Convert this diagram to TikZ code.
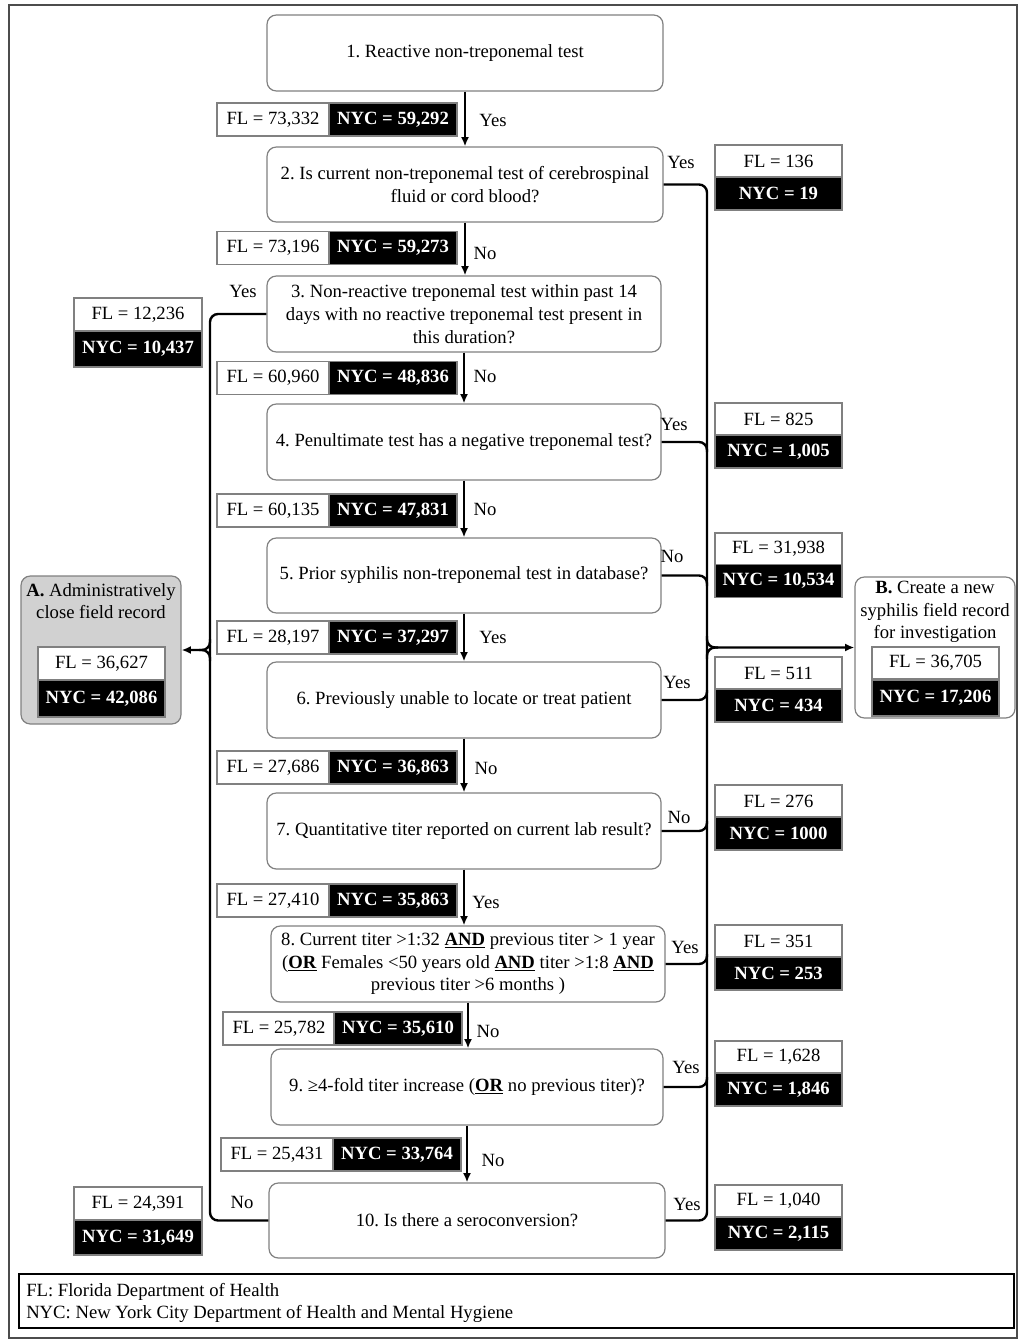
\documentclass[tikz,border=0pt]{standalone}
\usepackage{fontspec}
\setmainfont{Liberation Serif}
\usetikzlibrary{arrows.meta}
\frenchspacing
\begin{document}
\begin{tikzpicture}[x=0.75pt,y=-0.75pt,
  font=\fontsize{14}{17}\selectfont,
  qbox/.style={draw=black!50, line width=0.9pt, rounded corners=7pt, fill=white, align=center, inner sep=0pt},
  flbox/.style={draw=black!50, line width=0.9pt, fill=white, minimum width=84pt, minimum height=24.75pt, inner sep=0pt},
  nybox/.style={draw=black!50, line width=0.9pt, fill=black, text=white, font=\fontsize{14}{17}\selectfont\bfseries, minimum width=96pt, minimum height=24.75pt, inner sep=0pt},
  rfl/.style={flbox, minimum width=95.25pt, minimum height=24pt},
  rny/.style={nybox, minimum width=95.25pt, minimum height=24.75pt},
  lbl/.style={inner sep=0pt},
  conn/.style={line width=1.8pt, black, rounded corners=6pt},
  arr/.style={line width=1.8pt, black, -{Latex[length=7pt,width=6pt]}},
  arrc/.style={line width=1.8pt, black, rounded corners=6pt, -{Latex[length=7pt,width=6pt]}}
]
\useasboundingbox (0,0) rectangle (1020,1341);
\draw[black!70, line width=1.2pt] (9,5) rectangle (1017,1338);

% main question boxes
\node[qbox, minimum width=297pt, minimum height=57pt] (b1) at (465,53) {1. Reactive non-treponemal test};
\node[qbox, minimum width=297pt, minimum height=56.25pt] (b2) at (465,184.5) {2. Is current non-treponemal test of cerebrospinal\\fluid or cord blood?};
\node[qbox, minimum width=295.5pt, minimum height=57pt] (b3) at (464,314) {3. Non-reactive treponemal test within past 14\\days with no reactive treponemal test present in\\this duration?};
\node[qbox, minimum width=295.5pt, minimum height=57pt] (b4) at (464,442) {4. Penultimate test has a negative treponemal test?};
\node[qbox, minimum width=295.5pt, minimum height=56.25pt] (b5) at (464,575.5) {5. Prior syphilis non-treponemal test in database?};
\node[qbox, minimum width=295.5pt, minimum height=57pt] (b6) at (464,700) {6. Previously unable to locate or treat patient};
\node[qbox, minimum width=295.5pt, minimum height=57pt] (b7) at (464,831) {7. Quantitative titer reported on current lab result?};
\node[qbox, minimum width=295.5pt, minimum height=57pt] (b8) at (468,964) {8. Current titer >1:32 \underline{\textbf{AND}} previous titer > 1 year\\(\underline{\textbf{OR}} Females <50 years old \underline{\textbf{AND}} titer >1:8 \underline{\textbf{AND}}\\previous titer >6 months )};
\node[qbox, minimum width=294pt, minimum height=57pt] (b9) at (467,1087) {9. ≥4-fold titer increase (\underline{\textbf{OR}} no previous titer)?};
\node[qbox, minimum width=297pt, minimum height=56.25pt] (b10) at (467,1220.5) {10. Is there a seroconversion?};

% outcome boxes
\node[qbox, fill=black!18, minimum width=120pt, minimum height=111pt] (A) at (101,650) {};
\node[lbl, align=center] (At) at (101,601) {\textbf{A.} Administratively\\close field record};
\node[rfl, minimum height=24.75pt] (Afl) at (101.5,663.5) {FL = 36,627};
\node[rny, minimum height=27.75pt] (Any) at (101.5,698.5) {NYC = 42,086};

\node[qbox, minimum width=120pt, minimum height=105.75pt] (B) at (935,647.5) {};
\node[lbl, align=center] (Bt) at (935,612) {\textbf{B.} Create a new\\syphilis field record\\for investigation};
\node[rfl] (Bfl) at (935.5,663) {FL = 36,705};
\node[rny, minimum height=27pt] (Bny) at (935.5,698) {NYC = 17,206};

% vertical arrows
\draw[arr] (b1.south) -- (b1.south |- b2.north);
\draw[arr] (b2.south) -- (b2.south |- b3.north);
\draw[arr] (b3.south) -- (b3.south |- b4.north);
\draw[arr] (b4.south) -- (b4.south |- b5.north);
\draw[arr] (b5.south) -- (b5.south |- b6.north);
\draw[arr] (b6.south) -- (b6.south |- b7.north);
\draw[arr] (b7.south) -- (b7.south |- b8.north);
\draw[arr] (b8.south) -- (b8.south |- b9.north);
\draw[arr] (b9.south) -- (b9.south |- b10.north);

% count pairs between boxes
\node[flbox] (f12) at (273,119.5) {FL = 73,332};
\node[nybox] (n12) at (393,119.5) {NYC = 59,292};
\node[lbl] (y12) at (493,120) {Yes};
\node[flbox] (f23) at (273,248) {FL = 73,196};
\node[nybox] (n23) at (393,248) {NYC = 59,273};
\node[lbl] (y23) at (485,253) {No};
\node[flbox] (f34) at (273,378) {FL = 60,960};
\node[nybox] (n34) at (393,378) {NYC = 48,836};
\node[lbl] (y34) at (485,376) {No};
\node[flbox] (f45) at (273,510.5) {FL = 60,135};
\node[nybox] (n45) at (393,510.5) {NYC = 47,831};
\node[lbl] (y45) at (485,509) {No};
\node[flbox] (f56) at (273,637.5) {FL = 28,197};
\node[nybox] (n56) at (393,637.5) {NYC = 37,297};
\node[lbl] (y56) at (493,637) {Yes};
\node[flbox] (f67) at (273,767.5) {FL = 27,686};
\node[nybox] (n67) at (393,767.5) {NYC = 36,863};
\node[lbl] (y67) at (486,768) {No};
\node[flbox] (f78) at (273,900.5) {FL = 27,410};
\node[nybox] (n78) at (393,900.5) {NYC = 35,863};
\node[lbl] (y78) at (486,902) {Yes};
\node[flbox] (f89) at (279,1028.5) {FL = 25,782};
\node[nybox] (n89) at (398,1028.5) {NYC = 35,610};
\node[lbl] (y89) at (488,1031) {No};
\node[flbox] (f910) at (277,1154.5) {FL = 25,431};
\node[nybox] (n910) at (397,1154.5) {NYC = 33,764};
\node[lbl] (y910) at (493,1160) {No};

% right trunk
\draw[conn] (b2.east) -- (707,184.5) -- (707,1220.5) -- (b10.east);
\draw[conn] (b4.east) -- (707,442) -- (707,452);
\draw[conn] (b5.east) -- (707,575.5) -- (707,586);
\draw[conn] (b6.east) -- (707,700) -- (707,690);
\draw[conn] (b7.east) -- (707,831) -- (707,821);
\draw[conn] (b8.east) -- (707,964) -- (707,954);
\draw[conn] (b9.east) -- (707,1087) -- (707,1077);
\draw[arrc] (707,636) -- (707,647.5) -- (B.west);
\draw[conn] (707,659) -- (707,647.5) -- (718,647.5);

% left trunk
\draw[conn] (b3.west) -- (210,314) -- (210,1220.5) -- (b10.west);
\draw[arrc] (210,639) -- (210,650) -- (A.east);
\draw[conn] (210,661) -- (210,650) -- (199,650);

% right side counts
\node[lbl] (y2r) at (681,162) {Yes};
\node[rfl] (r2f) at (778.5,161) {FL = 136};
\node[rny] (r2n) at (778.5,193.5) {NYC = 19};
\node[lbl] (y4r) at (674,424) {Yes};
\node[rfl] (r4f) at (778.5,419) {FL = 825};
\node[rny] (r4n) at (778.5,451.5) {NYC = 1,005};
\node[lbl] (y5r) at (672,556) {No};
\node[rfl] (r5f) at (778.5,549) {FL = 31,938};
\node[rny] (r5n) at (778.5,581) {NYC = 10,534};
\node[lbl] (y6r) at (677,682) {Yes};
\node[rfl] (r6f) at (778.5,673) {FL = 511};
\node[rny] (r6n) at (778.5,705.5) {NYC = 434};
\node[lbl] (y7r) at (679,817) {No};
\node[rfl] (r7f) at (778.5,801) {FL = 276};
\node[rny] (r7n) at (778.5,833.5) {NYC = 1000};
\node[lbl] (y8r) at (685,947) {Yes};
\node[rfl] (r8f) at (778.5,941) {FL = 351};
\node[rny] (r8n) at (778.5,973.5) {NYC = 253};
\node[lbl] (y9r) at (686,1067) {Yes};
\node[rfl] (r9f) at (778.5,1057) {FL = 1,628};
\node[rny] (r9n) at (778.5,1089.5) {NYC = 1,846};
\node[lbl] (y10r) at (687,1204) {Yes};
\node[rfl] (r10f) at (778.5,1201) {FL = 1,040};
\node[rny] (r10n) at (778.5,1233.5) {NYC = 2,115};

% left side counts
\node[lbl] (y3l) at (243,291) {Yes};
\node[rfl, minimum width=96pt, minimum height=24.75pt] (l3f) at (138,314.5) {FL = 12,236};
\node[rny, minimum width=96pt, minimum height=27pt] (l3n) at (138,349) {NYC = 10,437};
\node[lbl] (n10l) at (242,1202) {No};
\node[rfl, minimum width=96pt, minimum height=24.75pt] (l10f) at (138,1203.5) {FL = 24,391};
\node[rny, minimum width=96pt, minimum height=26.25pt] (l10n) at (138,1237.5) {NYC = 31,649};

% legend
\node[draw=black, line width=1.4pt, inner sep=0pt, minimum width=746.25pt, minimum height=40.5pt] (leg) at (516.5,1301) {};
\node[lbl, anchor=west, align=left] (legt) at (26,1303) {FL: Florida Department of Health\\NYC: New York City Department of Health and Mental Hygiene};
\end{tikzpicture}
\end{document}
